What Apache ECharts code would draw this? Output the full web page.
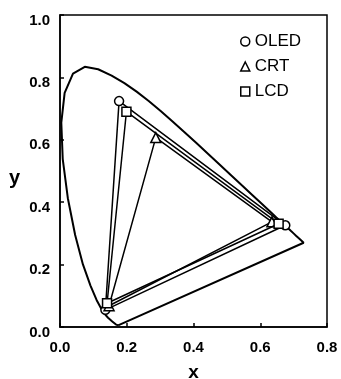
<!DOCTYPE html>
<html>
<head>
<meta charset="utf-8">
<script src="https://cdn.jsdelivr.net/npm/echarts@6/dist/echarts.min.js"></script>
<style>
  html, body { margin: 0; padding: 0; background: #fff; }
  #chart { width: 341px; height: 379px; }
</style>
</head>
<body>
<div id="chart"></div>
<script>
// CIE 1931 spectral locus, 380-700 nm in 5 nm steps
const locusX = [0.1741, 0.1740, 0.1738, 0.1736, 0.1733, 0.1730, 0.1726, 0.1721, 0.1714, 0.1703,
  0.1689, 0.1669, 0.1644, 0.1611, 0.1566, 0.1510, 0.1440, 0.1355, 0.1241, 0.1096,
  0.0913, 0.0687, 0.0454, 0.0235, 0.0082, 0.0039, 0.0139, 0.0389, 0.0743, 0.1142,
  0.1547, 0.1929, 0.2296, 0.2658, 0.3016, 0.3373, 0.3731, 0.4087, 0.4441, 0.4788,
  0.5125, 0.5448, 0.5752, 0.6029, 0.6270, 0.6482, 0.6658, 0.6801, 0.6915, 0.7006,
  0.7079, 0.7140, 0.7190, 0.7230, 0.7260, 0.7283, 0.7300, 0.7311, 0.7320, 0.7327,
  0.7334, 0.7340, 0.7344, 0.7346, 0.7347];
const locusY = [0.0050, 0.0050, 0.0049, 0.0049, 0.0048, 0.0048, 0.0048, 0.0048, 0.0051, 0.0058,
  0.0069, 0.0086, 0.0109, 0.0138, 0.0177, 0.0227, 0.0297, 0.0399, 0.0578, 0.0868,
  0.1327, 0.2007, 0.2950, 0.4127, 0.5384, 0.6548, 0.7502, 0.8120, 0.8338, 0.8262,
  0.8059, 0.7816, 0.7543, 0.7243, 0.6923, 0.6589, 0.6245, 0.5896, 0.5547, 0.5202,
  0.4866, 0.4544, 0.4242, 0.3965, 0.3725, 0.3514, 0.3340, 0.3197, 0.3083, 0.2993,
  0.2920, 0.2859, 0.2809, 0.2770, 0.2740, 0.2717, 0.2700, 0.2689, 0.2680, 0.2673,
  0.2666, 0.2660, 0.2656, 0.2654, 0.2653];

// display primaries: red, green, blue
const displayNames = ['OLED', 'CRT', 'LCD'];
const displaySymbols = ['circle', 'triangle', 'rect'];
const oledXY = [[0.675, 0.326], [0.177, 0.724], [0.136, 0.055]];
const crtXY = [[0.635, 0.337], [0.287, 0.607], [0.147, 0.068]];
const lcdXY = [[0.655, 0.331], [0.199, 0.690], [0.141, 0.076]];
const displayXY = [oledXY, crtXY, lcdXY];

const xTicks = [0, 0.2, 0.4, 0.6, 0.8];
const yTicks = [0, 0.2, 0.4, 0.6, 0.8, 1.0];

const font = 'Liberation Sans, Arial, sans-serif';

const locusData = locusX.map(function (x, i) {
  return [x, locusY[i]];
});
locusData.push([locusX[0], locusY[0]]);

const chart = echarts.init(document.getElementById('chart'));

const triangleSeries = displayNames.map(function (name, idx) {
  const pts = displayXY[idx];
  const data = pts.map(function (p) {
    return { value: p };
  });
  data.push({ value: pts[0], symbol: 'none' });
  return {
    name: name,
    type: 'line',
    data: data,
    symbol: displaySymbols[idx],
    symbolSize: idx === 1 ? 10 : 9,
    showAllSymbol: true,
    lineStyle: { color: '#000', width: 1.5 },
    itemStyle: { color: '#fff', borderColor: '#000', borderWidth: 1.5 },
    emphasis: { disabled: true },
    z: 3 + idx,
  };
});

const option = {
  animation: false,
  grid: {
    left: 60,
    right: 14,
    top: 15,
    bottom: 52,
    outerBoundsMode: 'none',
    containLabel: false,
    show: true,
    borderColor: '#000',
    borderWidth: 1.5,
  },
  legend: {
    orient: 'vertical',
    left: 240,
    top: 33,
    padding: 0,
    itemWidth: 9,
    itemHeight: 9,
    itemGap: 8,
    textStyle: { fontFamily: font, fontSize: 17, color: '#000', lineHeight: 17 },
    data: displayNames.map(function (name, idx) {
      return {
        name: name,
        icon: displaySymbols[idx],
        itemStyle: { color: '#fff', borderColor: '#000', borderWidth: 1.5 },
      };
    }),
    selectedMode: false,
  },
  xAxis: {
    type: 'value',
    min: 0,
    max: 0.8,
    interval: 0.2,
    name: 'x',
    nameLocation: 'middle',
    nameGap: 36,
    nameTextStyle: { fontFamily: font, fontSize: 19, fontWeight: 'bold', color: '#000' },
    axisLine: { show: true, lineStyle: { color: '#000', width: 1.5 } },
    axisTick: { show: true, inside: true, length: 4, lineStyle: { color: '#000', width: 1.5 } },
    axisLabel: {
      margin: 13,
      fontFamily: font,
      fontSize: 15,
      fontWeight: 'bold',
      color: '#000',
      formatter: function (v) { return v.toFixed(1); },
      customValues: xTicks,
    },
    splitLine: { show: false },
  },
  yAxis: {
    type: 'value',
    min: 0,
    max: 1,
    interval: 0.2,
    name: 'y',
    nameLocation: 'middle',
    nameRotate: 0,
    nameGap: 40,
    nameTextStyle: {
      fontFamily: font, fontSize: 20, fontWeight: 'bold', color: '#000',
      verticalAlign: 'top', lineHeight: 14,
    },
    axisLine: { show: true, lineStyle: { color: '#000', width: 1.5 } },
    axisTick: { show: true, inside: true, length: 4, lineStyle: { color: '#000', width: 1.5 } },
    axisLabel: {
      margin: 10,
      fontFamily: font,
      fontSize: 15,
      fontWeight: 'bold',
      color: '#000',
      verticalAlign: 'top',
      lineHeight: 11,
      formatter: function (v) { return v.toFixed(1); },
      customValues: yTicks,
    },
    splitLine: { show: false },
  },
  series: [{
    name: 'locus',
    type: 'line',
    data: locusData,
    symbol: 'none',
    lineStyle: { color: '#000', width: 2 },
    emphasis: { disabled: true },
    z: 2,
  }].concat(triangleSeries),
};

chart.setOption(option);
</script>
</body>
</html>
